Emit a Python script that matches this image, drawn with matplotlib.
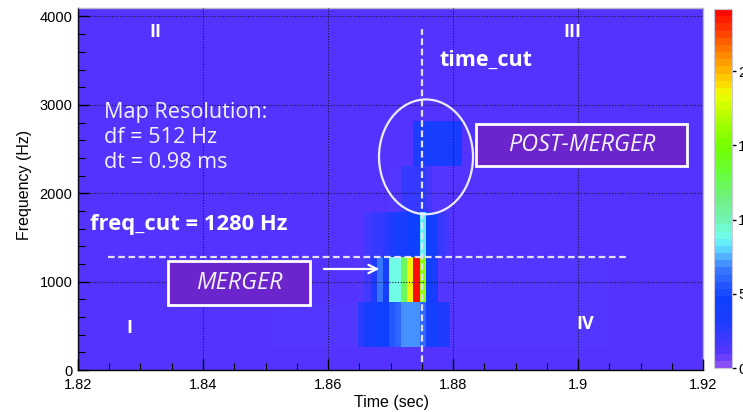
import numpy as np
import matplotlib
matplotlib.use("Agg")
import matplotlib.pyplot as plt
from matplotlib.colors import LinearSegmentedColormap, Normalize
from matplotlib.patches import Ellipse, Rectangle
from matplotlib.ticker import MultipleLocator
import matplotlib.cm as cm

# ---------------- data ----------------
dt = 0.00098                # time resolution (s)
t_start = 1.85113           # left edge of the first filled time bin
n_bins = 55
freq_edges = [256, 768, 1280, 1792, 2304, 2816]

band_256_768 = ([1.0] * 14 +
                [2.5, 3.5, 4.0, 4.5, 4.5, 5.5, 6.0, 7.0, 7.0, 7.0, 6.0, 4.0, 4.0, 3.0, 3.0] +
                [1.0] * 20 + [1.3] * 6)
band_768_1280 = ([0.0] * 14 +
                 [1.0, 1.5, 3.0, 6.5, 4.0, 9.0, 9.0, 12.5, 18.5, 24.0, 15.5, 4.5, 3.5] +
                 [1.0] * 28)
band_1280_1792 = ([0.0] * 15 +
                  [1.5, 2.0, 2.0, 2.5, 3.0, 4.0, 3.5, 4.5, 4.5, 8.3, 4.5, 4.0, 2.0, 1.5] +
                  [0.0] * 26)
band_1792_2304 = ([0.0] * 19 +
                  [1.2, 1.2, 2.0, 2.0, 2.0, 2.5, 1.5, 1.2, 1.2, 1.2] +
                  [0.0] * 26)
band_2304_2816 = ([0.0] * 23 +
                  [3.0, 3.5, 3.5, 3.5, 3.5, 3.5, 3.5, 3.5] +
                  [0.0] * 24)

time_cut = 1.875
freq_cut = 1280
x_ticks = [1.82, 1.84, 1.86, 1.88, 1.90, 1.92]
x_ticklabels = ["1.82", "1.84", "1.86", "1.88", "1.9", "1.92"]
y_ticks = [0, 1000, 2000, 3000, 4000]
cbar_ticks = [0, 5, 10, 15, 20]
vmax = 24.2

# ---------------- colormap (ROOT-like) ----------------
stops = [
    (0.0, "#8a50f5"), (0.8, "#5a36ff"), (1.5, "#4238ff"), (3.0, "#1c3cff"),
    (4.5, "#1040ff"), (5.5, "#2458ff"), (6.5, "#3a78ff"), (7.3, "#50a8ff"),
    (8.2, "#60e8ff"), (9.0, "#74ffe4"), (10.0, "#72f4b0"), (11.5, "#70f080"),
    (13.0, "#66ff40"), (15.0, "#74ff00"), (17.0, "#b0ff00"), (18.5, "#eeff00"),
    (19.5, "#ffd400"), (20.5, "#ffa800"), (22.0, "#ff6a00"), (23.0, "#ff3800"),
    (24.2, "#ff0a00"),
]
cmap = LinearSegmentedColormap.from_list(
    "rootlike", [(v / vmax, c) for v, c in stops], N=50)
norm = Normalize(vmin=0, vmax=vmax)

# ---------------- figure ----------------
W, H = 743, 412
fig = plt.figure(figsize=(W / 100, H / 100), dpi=100)
fig.patch.set_facecolor("white")
ax = fig.add_axes([78 / W, 1 - 370 / H, 625 / W, 362 / H])
ax.set_facecolor("#5533ff")

t_edges = t_start + dt * np.arange(n_bins + 1)
Z = np.array([band_256_768, band_768_1280, band_1280_1792,
              band_1792_2304, band_2304_2816])
Zm = np.ma.masked_less_equal(Z, 0)
ax.pcolormesh(t_edges, freq_edges, Zm, cmap=cmap, norm=norm,
              shading="flat", zorder=1)

ax.set_xlim(1.82, 1.92)
ax.set_ylim(0, 4096)
ax.set_xticks(x_ticks)
ax.set_xticklabels(x_ticklabels)
ax.set_yticks(y_ticks)
ax.xaxis.set_minor_locator(MultipleLocator(0.005))
ax.yaxis.set_minor_locator(MultipleLocator(200))
ax.tick_params(which="both", direction="in", top=False, right=False,
               color="black", labelsize=10.5, zorder=5)
ax.tick_params(which="major", length=8, width=1)
ax.tick_params(which="minor", length=5, width=0.8)
for lab in ax.get_xticklabels() + ax.get_yticklabels():
    lab.set_fontfamily("Liberation Sans")
ax.tick_params(axis="x", pad=6)
ax.tick_params(axis="y", pad=4)

ax.grid(True, which="major", color="#14143a", linestyle=(0, (1, 1.5)),
        linewidth=0.8, zorder=2)
ax.set_axisbelow(False)
for side in ["left", "bottom"]:
    ax.spines[side].set_color("black")
    ax.spines[side].set_linewidth(1.0)
for side in ["top", "right"]:
    ax.spines[side].set_color("#b8b8c8")
    ax.spines[side].set_linewidth(1.0)

fig.text(25 / W, 1 - 185 / H, "Frequency (Hz)", rotation=90,
         ha="center", va="center", fontsize=11.5, family="Liberation Sans")
fig.text(391 / W, 1 - 402 / H, "Time (sec)", ha="center", va="center",
         fontsize=11.5, family="Liberation Sans")

# ---------------- annotations ----------------
line_col = "#e4e0ff"
ax.plot([time_cut, time_cut], [90, 3860], color=line_col, lw=1.6,
        ls=(0, (3, 1.6)), zorder=4)
ax.plot([1.8248, 1.9078], [freq_cut, freq_cut], color=line_col, lw=1.6,
        ls=(0, (3, 1.6)), zorder=4)
ax.add_patch(Ellipse((1.87568, 2412), 0.01504, 1299, fill=False,
                     ec="#ecebff", lw=1.6, zorder=4))

tf = ["Open Sans", "DejaVu Sans"]
white = "white"
for (xx, yy), s in zip([(0.1232, 0.9337), (0.7904, 0.9337),
                        (0.0816, 0.116), (0.8112, 0.127)],
                       ["II", "III", "I", "IV"]):
    ax.text(xx, yy, s, transform=ax.transAxes, ha="center", va="center",
            color=white, fontsize=13, fontweight="bold", family=tf, zorder=6)
ax.text(0.5776, 0.8564, "time_cut", transform=ax.transAxes, ha="left",
        va="center", color=white, fontsize=15.5, fontweight="bold",
        family=tf, zorder=6)
for yy, s in zip([0.712, 0.643, 0.574],
                 ["Map Resolution:", "df = 512 Hz", "dt = 0.98 ms"]):
    ax.text(0.0416, yy, s, transform=ax.transAxes, ha="left", va="center",
            color="#f4f2ff", fontsize=15.6, family=tf, zorder=6)
ax.text(0.0192, 0.4006, "freq_cut = 1280 Hz", transform=ax.transAxes,
        ha="left", va="center", color=white, fontsize=15.8, fontweight="bold",
        family=tf, zorder=6)

box_fc = "#6c24cc"
ax.add_patch(Rectangle((0.144, 0.1796), 0.2272, 0.1215, transform=ax.transAxes,
                       fc=box_fc, ec="white", lw=2, zorder=5))
ax.text(0.2576, 0.2403, "MERGER", transform=ax.transAxes, ha="center",
        va="center", color="#f4f2ff", fontsize=16.8, fontstyle="italic",
        family=tf, zorder=6)
ax.add_patch(Rectangle((0.6368, 0.5635), 0.3376, 0.1161, transform=ax.transAxes,
                       fc=box_fc, ec="white", lw=2, zorder=5))
ax.text(0.8056, 0.6215, "POST-MERGER", transform=ax.transAxes, ha="center",
        va="center", color="#f4f2ff", fontsize=16.8, fontstyle="italic",
        family=tf, zorder=6)
ax.annotate("", xy=(0.4864, 0.279), xytext=(0.3888, 0.279),
            xycoords="axes fraction",
            arrowprops=dict(arrowstyle="->,head_length=0.6,head_width=0.3",
                            color="white", lw=1.6), zorder=6)

# ---------------- colorbar ----------------
cax = fig.add_axes([714 / W, 1 - 368 / H, 18 / W, 359 / H])
sm = cm.ScalarMappable(norm=norm, cmap=cmap)
cb = fig.colorbar(sm, cax=cax, ticks=cbar_ticks)
cb.outline.set_edgecolor("#c8c8d8")
cb.outline.set_linewidth(0.8)
cax.tick_params(direction="out", length=3, width=1, color="black",
                labelsize=11, pad=1.5)
for lab in cax.get_yticklabels():
    lab.set_fontfamily("Liberation Sans")

fig.savefig("out.png", dpi=100)
